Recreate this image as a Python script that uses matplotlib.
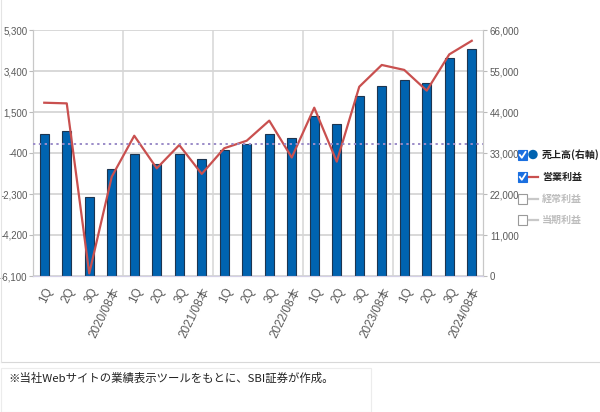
import matplotlib.pyplot as plt
import matplotlib.patches as mpatches
from matplotlib.lines import Line2D

# Data
categories = ['1Q', '2Q', '3Q', '2020/08本',
              '1Q', '2Q', '3Q', '2021/08本',
              '1Q', '2Q', '3Q', '2022/08本',
              '1Q', '2Q', '3Q', '2023/08本',
              '1Q', '2Q', '3Q', '2024/08本']
sales = [38000, 38900, 21300, 28700,
         32800, 30000, 32600, 31300,
         33800, 35300, 38000, 36900,
         42900, 40700, 48300, 51100,
         52600, 51700, 58400, 60900]
op_profit = [1930, 1900, -5980, -1500,
             400, -1110, -30, -1370,
             -180, 170, 1100, -610,
             1700, -800, 2670, 3680,
             3450, 2490, 4170, 4800]
left_ticks = [-6100, -4200, -2300, -400, 1500, 3400, 5300]
right_ticks = [0, 11000, 22000, 33000, 44000, 55000, 66000]
legend_items = ['売上高(右軸)', '営業利益', '経常利益', '当期利益']
note = '※当社Webサイトの業績表示ツールをもとに、SBI証券が作成。'

num_font = ['Liberation Sans', 'Noto Sans CJK JP']
jp_font = ['Noto Sans CJK JP', 'DejaVu Sans']
tick_col = '#5a5a5a'
bar_col = '#0063b0'
line_col = '#c9504f'

W, H = 600, 412
fig = plt.figure(figsize=(W / 100, H / 100), dpi=100)

def fx(px):
    return px / W

def fy(py):
    return 1 - py / H

ax2 = fig.add_axes([fx(33), fy(276), fx(450), 246 / H])
ax = ax2.twinx()
ax.set_zorder(ax2.get_zorder() + 1)
ax.patch.set_visible(False)

x = list(range(len(categories)))

# bars on right axis (drawn below)
ax2.bar(x, sales, width=0.38, color=bar_col, edgecolor='#1d3550', linewidth=0.8, zorder=3)
ax2.set_ylim(0, 66000)
ax2.set_xlim(-0.5, len(categories) - 0.5)
ax2.set_yticks(right_ticks)
for b in [3.5, 7.5, 11.5, 15.5]:
    ax2.axvline(b, color='#d6d6d6', lw=1.1, zorder=1)
for t in right_ticks:
    ax2.axhline(t, color='#d6d6d6', lw=1.3, zorder=1)

# operating profit on left axis
ax.plot(x, op_profit, color=line_col, lw=1.6, zorder=4)
ax.axhline(0, color='#9b8cc8', lw=1.4, ls=(0, (1.2, 1.8)), zorder=5)
ax.set_ylim(-6100, 5300)
ax.set_yticks(left_ticks)

# left/right labels
ax.yaxis.tick_left()
ax2.yaxis.tick_right()
ax.set_yticklabels([f'{v:,}' for v in left_ticks], family=num_font, fontsize=7, color=tick_col)
ax2.set_yticklabels([f'{v:,}' for v in right_ticks], family=num_font, fontsize=7, color=tick_col)
ax.tick_params(axis='y', length=3, color='#bbbbbb', pad=1)
ax2.tick_params(axis='y', length=3, color='#bbbbbb', pad=2)

ax2.set_xticks(x)
ax2.set_xticklabels(categories, rotation=64, ha='right', va='top', rotation_mode='anchor',
                    family=num_font, fontsize=8.5, color=tick_col)
ax2.tick_params(axis='x', length=0, pad=7)
ax.tick_params(axis='x', length=0)

for a in (ax, ax2):
    a.spines['top'].set_visible(False)
    a.spines['left'].set_color('#c8c8c8')
    a.spines['right'].set_color('#c8c8c8')
    a.spines['bottom'].set_color('#d4d0e6')

# legend (drawn manually)
leg_y = [155, 177, 199, 220]
for i, (lab, yy) in enumerate(zip(legend_items, leg_y)):
    checked = i < 2
    box = mpatches.Rectangle((fx(518), fy(yy + 5)), fx(9), 10 / H, transform=fig.transFigure,
                             facecolor='#1a6fe0' if checked else 'white',
                             edgecolor='#1a6fe0' if checked else '#9a9a9a', lw=0.8)
    fig.add_artist(box)
    if checked:
        fig.add_artist(Line2D([fx(519.8), fx(521.8), fx(525.5)], [fy(yy), fy(yy + 2.8), fy(yy - 3)],
                              transform=fig.transFigure, color='white', lw=1.3))
    if i == 0:
        fig.add_artist(mpatches.Ellipse((fx(533), fy(yy - 0.5)), fx(8), 8 / H,
                                        transform=fig.transFigure, color=bar_col))
        col = '#222222'
    elif i == 1:
        fig.add_artist(Line2D([fx(528.5), fx(538)], [fy(yy), fy(yy)], transform=fig.transFigure,
                              color=line_col, lw=1.6))
        col = '#222222'
    else:
        fig.add_artist(Line2D([fx(528.5), fx(538)], [fy(yy), fy(yy)], transform=fig.transFigure,
                              color='#c8c8c8', lw=1.6))
        col = '#bdbdbd'
    fig.text(fx(542), fy(yy), lab, family=jp_font, fontsize=7.2, fontweight='bold', color=col,
             va='center', ha='left')

# frames and note
fig.add_artist(Line2D([fx(1), fx(599)], [fy(362), fy(362)], transform=fig.transFigure,
                      color='#d8d8d8', lw=0.8))
fig.add_artist(Line2D([fx(1), fx(1)], [fy(0), fy(362)], transform=fig.transFigure,
                      color='#e4e4e4', lw=0.8))
fig.add_artist(mpatches.Rectangle((fx(1), 0), fx(370), 44 / H, transform=fig.transFigure,
                                  facecolor='white', edgecolor='#ececec', lw=0.8))
fig.text(fx(8), fy(378), note, family=jp_font, fontsize=8.2, color='#222222', va='center', ha='left')

fig.savefig('out.png', dpi=100)
